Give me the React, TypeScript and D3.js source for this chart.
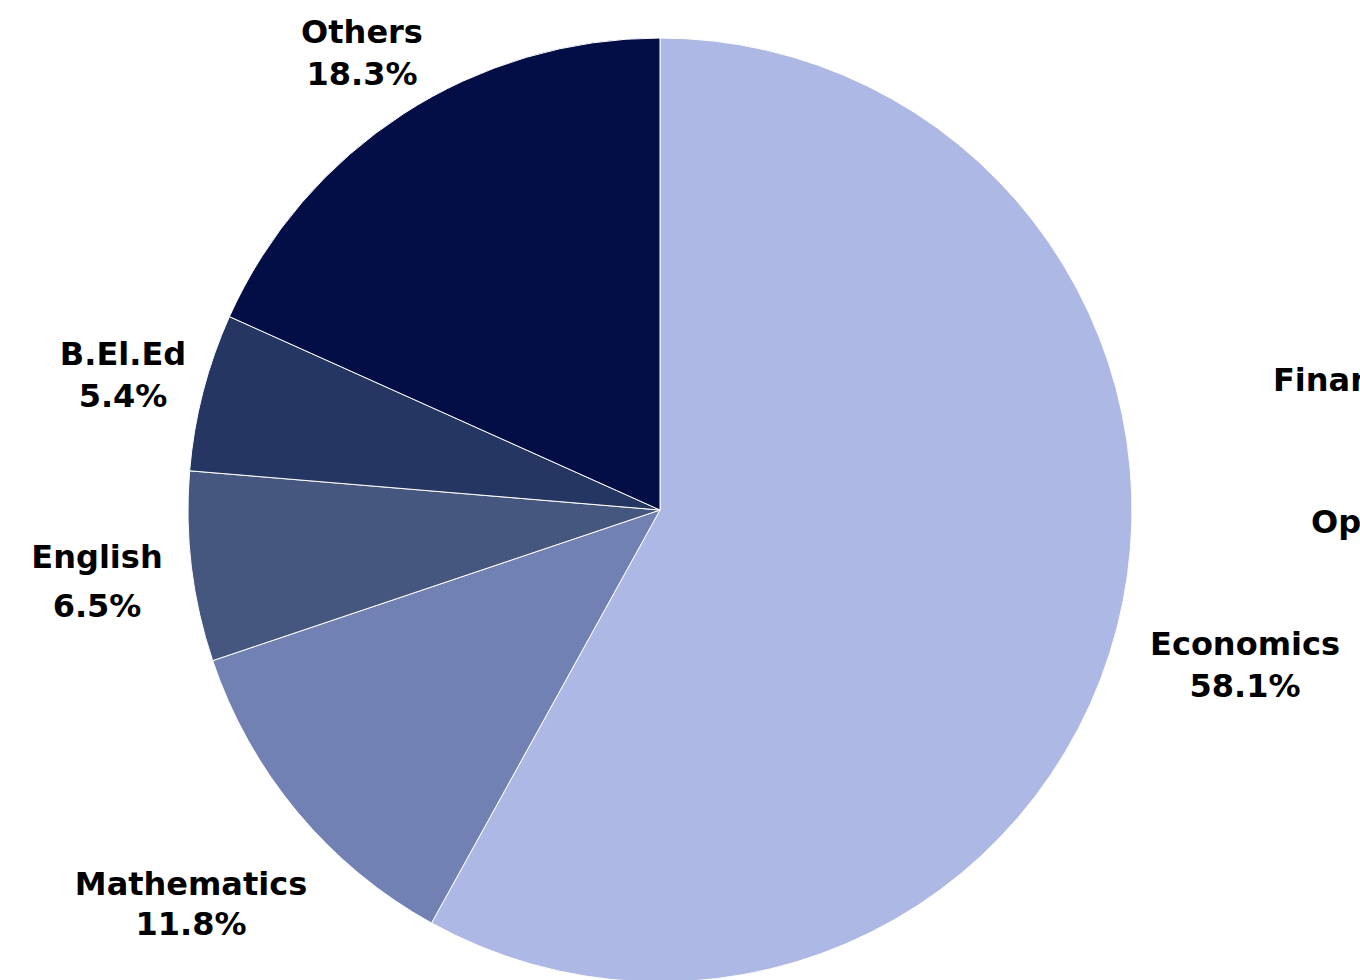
import React from "react";
import * as d3 from "d3";

const categories = ["Economics", "Mathematics", "English", "B.El.Ed", "Others"];
const values = [58.1, 11.8, 6.5, 5.4, 18.3];
const colors = ["#adb9e4", "#7281b4", "#46577f", "#243661", "#020e45"];
// label anchor positions (center x, first baseline y), relative to chart
const labelPos: [number, number, number][] = [
  [1245, 655, 42],
  [191, 895, 40],
  [97, 568, 49],
  [123, 365, 42],
  [362, 43, 42],
];
const extraLabels = ["Finance", "Optional"];
const extraPos: [number, number][] = [
  [1273, 391],
  [1311, 533],
];

export default function App() {
  const W = 1360, H = 980;
  const cx = 660, cy = 510, r = 472;
  const pie = d3.pie<number>().sort(null).value((d) => d);
  const arcs = pie(values);
  const arc = d3.arc<d3.PieArcDatum<number>>().innerRadius(0).outerRadius(r);
  const font = "'DejaVu Sans', sans-serif";
  return (
    <div style={{ position: "absolute", left: 0, top: 0, width: W, height: H, overflow: "hidden", background: "#fff" }}>
      <svg width={W} height={H} style={{ display: "block" }}>
        <g transform={`translate(${cx},${cy})`}>
          {arcs.map((a, i) => (
            <path key={i} d={arc(a) || ""} fill={colors[i]} stroke="#ffffff" strokeWidth={1} />
          ))}
        </g>
        {categories.map((c, i) => (
          <text key={c} textAnchor="middle" fontFamily={font} fontWeight="bold" fontSize={32} fill="#000">
            <tspan x={labelPos[i][0]} y={labelPos[i][1]}>{c}</tspan>
            <tspan x={labelPos[i][0]} y={labelPos[i][1] + labelPos[i][2]}>{d3.format(".1f")(values[i])}%</tspan>
          </text>
        ))}
        {extraLabels.map((c, i) => (
          <text key={c} x={extraPos[i][0]} y={extraPos[i][1]} fontFamily={font} fontWeight="bold" fontSize={32} fill="#000">
            {c}
          </text>
        ))}
      </svg>
    </div>
  );
}
